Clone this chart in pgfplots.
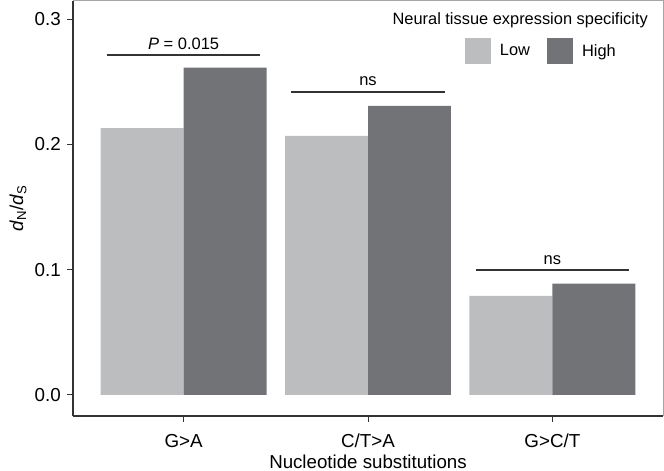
\documentclass[border=0pt]{standalone}
\usepackage{fontspec}
\setmainfont{Liberation Sans}
\usepackage{pgfplots}
\pgfplotsset{compat=1.18}

\definecolor{lowgray}{HTML}{BCBDBF}
\definecolor{highgray}{HTML}{727377}
\definecolor{axisdark}{HTML}{333333}
\definecolor{framegray}{HTML}{A6A6A6}

\newcommand{\tickfont}{\fontsize{18.8}{22}\selectfont}
\newcommand{\labfont}{\fontsize{18.7}{22}\selectfont}
\newcommand{\legfont}{\fontsize{16.4}{19}\selectfont}
\newcommand{\annfont}{\fontsize{16.5}{20}\selectfont}

\begin{document}
\begin{tikzpicture}
\begin{axis}[
  scale only axis,
  width=590pt, height=415pt,
  xmin=0.4, xmax=3.6,
  ymin=-0.0168, ymax=0.3144,
  axis x line*=bottom,
  axis y line*=left,
  axis line style={axisdark, line width=1.2pt, -},
  xtick={1,2,3},
  xticklabels={G>A, C/T>A, G>C/T},
  ytick={0,0.1,0.2,0.3},
  /pgf/number format/fixed,
  /pgf/number format/fixed zerofill,
  /pgf/number format/precision=1,
  /pgf/number format/assume math mode=true,
  tick align=outside,
  major tick length=6pt,
  tick style={axisdark, line width=1pt},
  x tick label style={font=\tickfont, anchor=base, inner sep=0pt, yshift=-25pt},
  y tick label style={font=\tickfont, anchor=east, inner sep=0pt, xshift=-6pt},
  xlabel={Nucleotide substitutions},
  ylabel={\textit{d}\textsubscript{N}/\textit{d}\textsubscript{S}},
  every axis x label/.style={at={(axis description cs:0.5,-0.1265)}, anchor=base, font=\labfont},
  every axis y label/.style={at={(axis description cs:-0.0932,0.5)}, anchor=center, rotate=90, font=\labfont},
  legend columns=2,
  legend style={at={(axis description cs:0.6644,0.8795)}, anchor=west, draw=none, fill=none,
    inner sep=0pt, outer sep=0pt, font=\legfont,
    /tikz/every even column/.append style={column sep=17pt},
    nodes={inner sep=0pt}},
  legend cell align=left,
  clip=false,
]
\addplot[ybar, bar width=0.45, fill=lowgray, draw=none, bar shift=-0.225,
  legend image code/.code={\fill[lowgray] (0pt,-13pt) rectangle (26pt,13pt); \path (35pt,0pt);}]
  coordinates {(1,0.2130) (2,0.2067) (3,0.0790)};
\addlegendentry{Low}
\addplot[ybar, bar width=0.45, fill=highgray, draw=none, bar shift=0.225,
  legend image code/.code={\fill[highgray] (0pt,-13pt) rectangle (26pt,13pt); \path (35pt,0pt);}]
  coordinates {(1,0.2613) (2,0.2306) (3,0.0888)};
\addlegendentry{High}

% significance brackets
\addplot[sharp plot, axisdark, line width=1.8pt, forget plot] coordinates {(0.585,0.2715) (1.415,0.2715)};
\addplot[sharp plot, axisdark, line width=1.8pt, forget plot] coordinates {(1.585,0.2418) (2.415,0.2418)};
\addplot[sharp plot, axisdark, line width=1.8pt, forget plot] coordinates {(2.585,0.0995) (3.415,0.0995)};
\node[anchor=base, font=\annfont, yshift=5pt] at (axis cs:1,0.2715) {\textit{P} = 0.015};
\node[anchor=base, font=\annfont, yshift=6pt] at (axis cs:2,0.2418) {ns};
\node[anchor=base, font=\annfont, yshift=6pt] at (axis cs:3,0.0995) {ns};

% panel frame (top and right)
\draw[framegray, line width=1pt] (rel axis cs:0,1) -- (rel axis cs:1,1) -- (rel axis cs:1,0);

% legend title
\node[anchor=base east, font=\legfont, inner sep=0pt] at (axis description cs:0.9746,0.9422) {Neural tissue expression specificity};
\end{axis}
\pgfresetboundingbox
\path[use as bounding box] (-73pt,-55pt) rectangle (591pt,416pt);
\end{tikzpicture}
\end{document}
